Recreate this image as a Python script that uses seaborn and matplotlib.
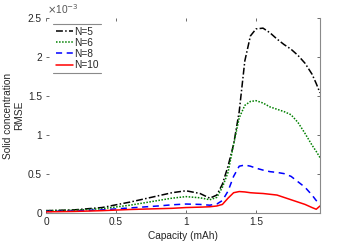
import numpy as np
import pandas as pd
import seaborn as sns
import matplotlib
matplotlib.use("Agg")
import matplotlib.pyplot as plt
from matplotlib.lines import Line2D

# Data (RMSE in units of 1e-3)
capacity = [0, 0.2, 0.4, 0.6, 0.8, 0.9, 1.0, 1.1, 1.17, 1.22, 1.26, 1.3, 1.34, 1.38,
            1.42, 1.46, 1.5, 1.55, 1.6, 1.65, 1.7, 1.75, 1.8, 1.85, 1.9, 1.93, 1.957]
rmse_n5 = [0.03, 0.04, 0.07, 0.14, 0.22, 0.26, 0.285, 0.25, 0.19, 0.23, 0.37, 0.60, 0.88, 1.30,
           1.95, 2.27, 2.36, 2.37, 2.31, 2.23, 2.16, 2.10, 2.02, 1.92, 1.78, 1.66, 1.54]
rmse_n6 = [0.03, 0.035, 0.055, 0.10, 0.16, 0.19, 0.21, 0.195, 0.17, 0.20, 0.33, 0.52, 0.88, 1.22,
           1.38, 1.43, 1.44, 1.41, 1.36, 1.33, 1.30, 1.26, 1.16, 1.02, 0.87, 0.79, 0.71]
rmse_n8 = [0.02, 0.025, 0.04, 0.065, 0.09, 0.105, 0.115, 0.11, 0.10, 0.115, 0.16, 0.28, 0.47, 0.60,
           0.615, 0.60, 0.575, 0.55, 0.53, 0.52, 0.505, 0.47, 0.40, 0.33, 0.23, 0.16, 0.11]
rmse_n10 = [0.015, 0.02, 0.03, 0.045, 0.055, 0.06, 0.07, 0.075, 0.08, 0.09, 0.11, 0.19, 0.26, 0.275,
            0.27, 0.26, 0.255, 0.25, 0.24, 0.23, 0.20, 0.17, 0.14, 0.11, 0.07, 0.048, 0.09]
labels = ["N=5", "N=6", "N=8", "N=10"]
xticks = [0, 0.5, 1, 1.5]
yticks = [0, 0.5, 1, 1.5, 2, 2.5]

sns.set_theme(style="white")
plt.rcParams['font.family'] = ['Liberation Sans', 'DejaVu Sans']
fs = 7.3

df = pd.DataFrame({
    "Capacity": capacity * 4,
    "RMSE": rmse_n5 + rmse_n6 + rmse_n8 + rmse_n10,
    "N": sum([[l] * len(capacity) for l in labels], []),
})

fig = plt.figure(figsize=(3.54, 2.43), dpi=100)
ax = fig.add_axes([46/354, 1-213/243, (320-46)/354, (213-18)/243])

colors = {"N=5": "black", "N=6": "#008000", "N=8": "#0000ff", "N=10": "#ff0000"}
styles = {"N=5": (0, (4.5, 1.5, 1, 1.5)), "N=6": (0, (1, 1)), "N=8": (0, (4, 3)), "N=10": "-"}
for lab in labels:
    sub = df[df["N"] == lab]
    sns.lineplot(data=sub, x="Capacity", y="RMSE", ax=ax, color=colors[lab],
                 linestyle=styles[lab], linewidth=1.1, label=lab, estimator=None, sort=False)

ax.set_xlim(0, 1.957)
ax.set_ylim(0, 2.5)
ax.set_xticks(xticks)
ax.set_xticklabels([f"{t:g}" for t in xticks])
ax.set_yticks(yticks)
ax.set_yticklabels([f"{t:g}" for t in yticks])
ax.tick_params(direction="in", length=2.5, width=0.6, color="#555555", labelsize=fs,
               labelcolor="#262626", top=True, right=True, bottom=True, left=True, pad=3)
for s in ["left", "top"]:
    ax.spines[s].set_visible(False)
for s in ["bottom", "right"]:
    ax.spines[s].set_color("#8a8a8a")
    ax.spines[s].set_linewidth(0.8)

ax.set_xlabel("Capacity (mAh)", fontsize=fs, color="#262626", labelpad=3)
ax.set_ylabel("Solid concentration\nRMSE", fontsize=fs, color="#262626", labelpad=3,
              linespacing=1.05)
ax.text(0.005, 1.01, r"$\times$10$^{-3}$", transform=ax.transAxes, fontsize=fs,
        color="#555555", ha="left", va="bottom")

leg = ax.legend(loc="upper left", bbox_to_anchor=(7/274, 1 - 6/195), frameon=False, fontsize=fs,
                handlelength=1.7, handletextpad=0.1, labelspacing=0.12, borderpad=0.25,
                borderaxespad=0)
for t in leg.get_texts():
    t.set_color("#262626")

fig.canvas.draw()
bb = leg.get_window_extent().transformed(fig.transFigure.inverted())
for yy in [bb.y0, bb.y1]:
    fig.add_artist(Line2D([bb.x0, bb.x1], [yy, yy], transform=fig.transFigure,
                          color="#8a8a8a", linewidth=0.8))

fig.savefig("out.png", dpi=100)
